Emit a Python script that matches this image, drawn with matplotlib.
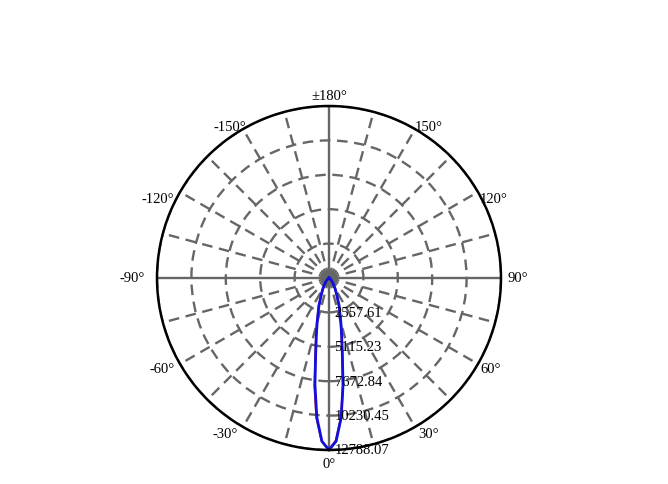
import numpy as np
import matplotlib.pyplot as plt

plt.rcParams['font.family'] = ['Liberation Serif', 'DejaVu Serif']

# luminous intensity (cd) vs angle (deg)
angles = [0, 2.5, 5, 7.5, 10, 12.5, 15, 20, 25, 30, 40, 50, 60, 70, 80, 90, 120, 150, 180]
c0_c180 = [12788, 12150, 10400, 8000, 5700, 4350, 3400, 2200, 1350, 900, 400, 150, 50, 10, 0, 0, 0, 0, 0]
c90_c270 = [12788, 12100, 10450, 8100, 5750, 4380, 3420, 2200, 1350, 900, 400, 150, 50, 10, 0, 0, 0, 0, 0]

r_ticks = [2557.61, 5115.23, 7672.84, 10230.45, 12788.07]
r_labels = ['2557.61', '5115.23', '7672.84', '10230.45', '12788.07']
theta_ticks = np.arange(0, 360, 30)
theta_labels = ['0°', '30°', '60°', '90°', '120°', '150°', '±180°',
                '-150°', '-120°', '-90°', '-60°', '-30°']


def mirror(a, v):
    a = np.array(a, dtype=float)
    v = np.array(v, dtype=float)
    th = np.concatenate([-a[::-1], a[1:]])
    rr = np.concatenate([v[::-1], v[1:]])
    return np.radians(th), rr


fig = plt.figure(figsize=(6.68, 4.85), dpi=100)
ax = fig.add_axes([157/668, 34/485, 344/668, 344/485], projection='polar')
ax.set_theta_zero_location('S')
ax.set_theta_direction(1)

# grid every 15 deg
ax.set_xticks(np.radians(np.arange(0, 360, 15)))
ax.set_xticklabels([])

ax.set_ylim(0, r_ticks[-1])
ax.set_yticks(r_ticks)
ax.set_yticklabels([])

ax.grid(True, color='#666666', linewidth=1.7, linestyle=(0, (4.5, 2.8)))
for d, gl in zip(np.arange(0, 360, 15), ax.xaxis.get_gridlines()):
    if d % 90 == 0:
        gl.set_linestyle('-')

ax.spines['polar'].set_color('black')
ax.spines['polar'].set_linewidth(1.8)

t1, r1 = mirror(angles, c90_c270)
t0, r0 = mirror(angles, c0_c180)
ax.plot(t1 - 0.002, r1, color='#cc2020', linewidth=1.6)
ax.plot(t0, r0, color='#1010e0', linewidth=2)

# angle labels, anchored at the outer circle: (ha, va, dx, dy) in points
place = {0: ('center', 'top', 0, -5),
         30: ('left', 'top', 2, 0),
         60: ('left', 'center', 2, -3),
         90: ('left', 'center', 5, 0),
         120: ('left', 'top', 1, 0),
         150: ('left', 'bottom', 0, -3),
         180: ('center', 'bottom', 0, 3),
         210: ('right', 'bottom', 2, -3),
         240: ('right', 'top', -4.5, 0),
         270: ('right', 'center', -9, 0),
         300: ('right', 'center', -4, -3),
         330: ('right', 'top', -4, 0)}
for d, lab in zip(theta_ticks, theta_labels):
    ha, va, dx, dy = place[d]
    ax.annotate(lab, xy=(np.radians(d), r_ticks[-1]), xytext=(dx, dy),
                textcoords='offset points', ha=ha, va=va, fontsize=10.5,
                annotation_clip=False)

for r, lab in zip(r_ticks, r_labels):
    ax.annotate(lab, xy=(0, r), xytext=(4, 0), textcoords='offset points',
                ha='left', va='center', fontsize=10.5, color='black')

fig.savefig('out.png', dpi=100)
